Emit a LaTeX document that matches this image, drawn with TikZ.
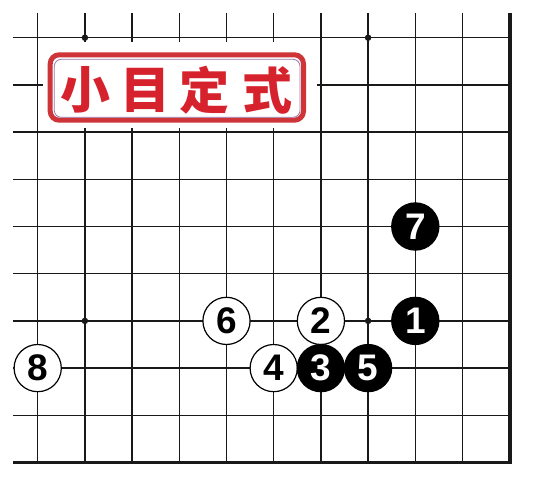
\documentclass[tikz,border=0pt]{standalone}
\usepackage{fontspec}
\setmainfont{Liberation Sans}
\newfontfamily\cjk{Noto Sans CJK SC}
\definecolor{titlered}{RGB}{214,34,44}
\definecolor{boxred}{RGB}{206,52,56}
\definecolor{innerline}{RGB}{150,120,170}
\definecolor{gridcol}{RGB}{25,25,25}
\begin{document}
\begin{tikzpicture}[x=1pt,y=-1pt,
  gridline/.style={line width=1.3pt, draw=gridcol},
  edgeline/.style={line width=3.8pt, draw=gridcol, line join=miter},
  starpt/.style={circle, fill=gridcol, inner sep=0pt, minimum size=6.5pt},
  stone/.style={circle, inner sep=0pt, minimum size=47.2pt, line width=1.2pt, draw=black,
    font=\fontsize{37}{37}\selectfont\bfseries},
  wstone/.style={stone, fill=white, text=black},
  bstone/.style={stone, fill=black, text=white},
  titlechar/.style={text=titlered, inner sep=0pt, font=\cjk\bfseries\fontsize{50}{50}\selectfont},
  outerbox/.style={draw=boxred, line width=5pt, rounded corners=9pt, inner sep=0pt,
    minimum width=253.3pt, minimum height=65.4pt},
  innerbox/.style={draw=innerline, line width=0.8pt, rounded corners=7pt, inner sep=0pt,
    minimum width=245.7pt, minimum height=58pt}
]
\useasboundingbox[fill=white] (0,0) rectangle (547,500);
% grid
\foreach \j in {0,...,8}
  \draw[gridline] (13,{37.7+47.2*\j}) -- (509.7,{37.7+47.2*\j});
\foreach \k in {0,...,9}
  \draw[gridline] ({37.7+47.2*\k},13) -- ({37.7+47.2*\k},462.5);
\draw[edgeline] (509.7,13) -- (509.7,462.5) -- (13,462.5);
% star points
\node[starpt] (s1) at (84.9,37.7) {};
\node[starpt] (s2) at (368.1,37.7) {};
\node[starpt] (s3) at (84.9,320.9) {};
\node[starpt] (s4) at (368.1,320.9) {};
% title
\fill[white] (42.7,41.7) rectangle (316.7,128);
\node[outerbox] (tbox) at (176.85,87.5) {};
\node[innerbox] (tin) at (177.15,88.3) {};
\node[titlechar] (c1) at (85,90) {小};
\node[titlechar] (c2) at (145.5,90) {目};
\node[titlechar] (c3) at (204.5,90) {定};
\node[titlechar] (c4) at (267,90) {式};
% stones
\node[wstone] (m8) at (37.7,368.1) {8};
\node[wstone] (m6) at (226.5,320.9) {6};
\node[wstone] (m2) at (320.9,320.9) {2};
\node[bstone] (m1) at (415.3,320.9) {1};
\node[bstone] (m7) at (415.3,226.5) {7};
\node[wstone] (m4) at (273.7,368.1) {4};
\node[bstone] (m3) at (320.9,368.1) {3};
\node[bstone] (m5) at (368.1,368.1) {5};
\end{tikzpicture}
\end{document}
